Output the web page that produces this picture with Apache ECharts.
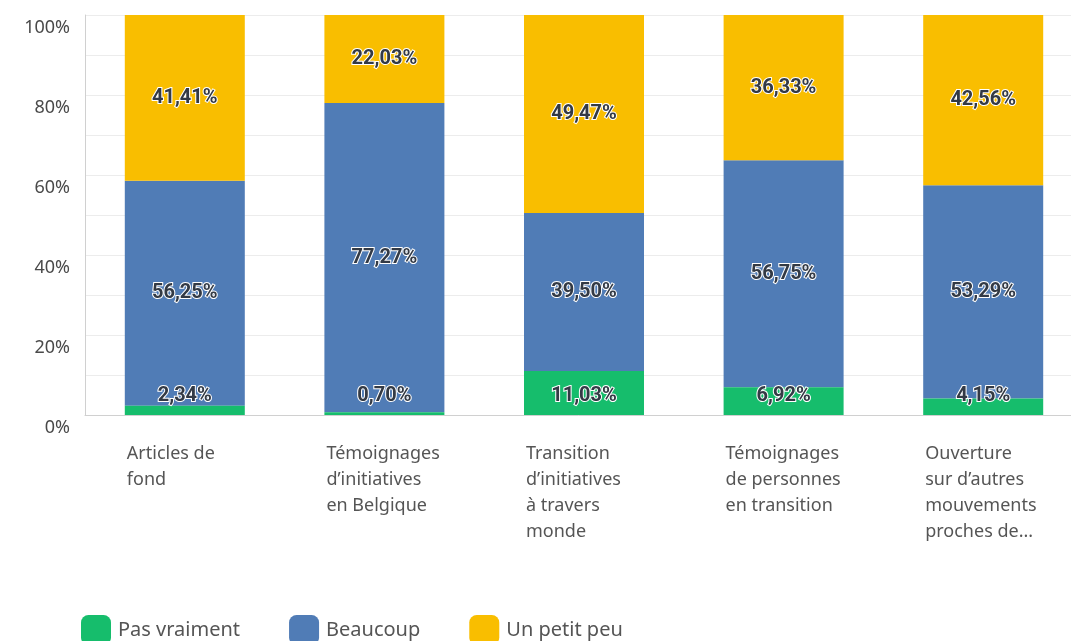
<!DOCTYPE html>
<html>
<head>
<meta charset="utf-8">
<script src="https://cdn.jsdelivr.net/npm/echarts@6/dist/echarts.min.js"></script>
<style>
  html, body { margin: 0; padding: 0; background: #fff; }
  #chart { width: 1071px; height: 641px; }
</style>
</head>
<body>
<div id="chart"></div>
<script>
// données
const categories = [
  'Articles de\nfond',
  'Témoignages\nd\u2019initiatives\nen Belgique',
  'Transition\nd\u2019initiatives\nà travers\nmonde',
  'Témoignages\nde personnes\nen transition',
  'Ouverture\nsur d\u2019autres\nmouvements\nproches de...'
]
const pasVraiment = [2.34, 0.70, 11.03, 6.92, 4.15]
const beaucoup = [56.25, 77.27, 39.50, 56.75, 53.29]
const unPetitPeu = [41.41, 22.03, 49.47, 36.33, 42.56]

const fmt = (v) => v.toFixed(2).replace('.', ',') + '%'

const labelStyle = {
  show: true,
  color: '#333a45',
  fontFamily: 'Roboto, "Noto Sans", sans-serif',
  fontWeight: 'bold',
  fontSize: 20,
  textBorderColor: '#fff',
  textBorderWidth: 2,
  formatter: (p) => fmt(p.value)
}

const chart = echarts.init(document.getElementById('chart'))

chart.setOption({
  animation: false,
  // la zone déborde à droite comme sur l'original
  grid: { left: 85, top: 15, width: 998, height: 400, containLabel: false, outerBoundsMode: 'none' },
  legend: {
    left: 76,
    top: 610,
    itemWidth: 30,
    itemHeight: 30,
    itemGap: 49,
    icon: 'roundRect',
    textStyle: { fontSize: 20, color: '#555', fontFamily: '"Noto Sans", sans-serif', padding: [0, 0, 0, 2] },
    data: ['Pas vraiment', 'Beaucoup', 'Un petit peu']
  },
  xAxis: {
    type: 'category',
    data: categories,
    axisLine: { lineStyle: { color: '#d0d0d0' } },
    axisTick: { show: false },
    axisLabel: {
      interval: 0,
      align: 'left',
      verticalAlign: 'top',
      margin: 26,
      padding: [0, 0, 0, -58],
      fontSize: 18,
      lineHeight: 26,
      color: '#555',
      fontFamily: '"Noto Sans", sans-serif'
    }
  },
  yAxis: {
    type: 'value',
    min: 0,
    max: 100,
    interval: 10,
    axisLine: { show: true, lineStyle: { color: '#d0d0d0' } },
    axisTick: { show: false },
    splitLine: { lineStyle: { color: '#ececec' } },
    axisLabel: {
      margin: 15,
      fontSize: 18,
      lineHeight: 25,
      verticalAlign: 'top',
      color: '#4a4a4a',
      fontFamily: '"Noto Sans", sans-serif',
      formatter: (v) => (v % 20 === 0 ? v + '%' : '')
    }
  },
  series: [
    {
      name: 'Pas vraiment',
      type: 'bar',
      stack: 'total',
      barWidth: 120,
      itemStyle: { color: '#16bd6c' },
      label: { ...labelStyle, position: 'insideBottom', distance: 9 },
      z: 3,
      data: pasVraiment
    },
    {
      name: 'Beaucoup',
      type: 'bar',
      stack: 'total',
      barWidth: 120,
      itemStyle: { color: '#507cb6' },
      label: { ...labelStyle, position: 'inside' },
      data: beaucoup
    },
    {
      name: 'Un petit peu',
      type: 'bar',
      stack: 'total',
      barWidth: 120,
      itemStyle: { color: '#f9be00' },
      label: { ...labelStyle, position: 'inside' },
      data: unPetitPeu
    }
  ]
})
</script>
</body>
</html>
